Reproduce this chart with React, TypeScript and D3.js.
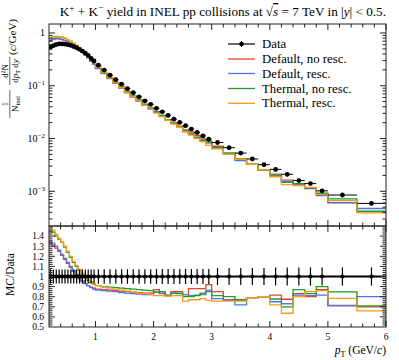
import React, { useEffect, useRef } from 'react'
import * as d3 from 'd3'

// pT bin edges (GeV/c)
const binEdges = [
  0.2, 0.25, 0.3, 0.35, 0.4, 0.45, 0.5, 0.55, 0.6, 0.65, 0.7, 0.75, 0.8, 0.85, 0.9, 0.95, 1.0,
  1.1, 1.2, 1.3, 1.4, 1.5, 1.6, 1.7, 1.8, 1.9, 2.0, 2.1, 2.2, 2.3, 2.4, 2.5, 2.6, 2.7, 2.8, 2.9, 3.0,
  3.2, 3.4, 3.6, 3.8, 4.0, 4.2, 4.4, 4.6, 4.8, 5.0, 5.5, 6.0,
]

// ALICE data: 1/N dN/dpT dy
const dataYield = [
  0.535, 0.575, 0.605, 0.62, 0.62, 0.615, 0.6, 0.58, 0.555, 0.525, 0.49, 0.455, 0.415, 0.375, 0.33, 0.295,
  0.245, 0.198, 0.159, 0.13, 0.107, 0.088, 0.0737, 0.0618, 0.0519, 0.0444, 0.0373, 0.0321, 0.0274, 0.0232,
  0.0202, 0.0175, 0.0151, 0.013, 0.0112, 0.0097,
  0.0084, 0.0067, 0.0053, 0.0041, 0.0032, 0.0026, 0.0021, 0.0016, 0.0014, 0.00102, 0.00085, 0.00059,
]
// relative uncertainty of the data
const dataRelErr = [
  0.07, 0.07, 0.07, 0.07, 0.07, 0.07, 0.07, 0.07, 0.07, 0.07, 0.07, 0.07, 0.07, 0.07, 0.07, 0.07,
  0.072, 0.072, 0.072, 0.072, 0.072, 0.072, 0.072, 0.072, 0.072, 0.072, 0.075, 0.075, 0.075, 0.075,
  0.075, 0.075, 0.075, 0.075, 0.075, 0.075,
  0.085, 0.085, 0.085, 0.085, 0.085, 0.09, 0.09, 0.09, 0.09, 0.09, 0.09, 0.09,
]

// MC / Data ratios
const defaultNoResc = [
  1.33, 1.31, 1.28, 1.25, 1.21, 1.17, 1.13, 1.09, 1.05, 1.01, 0.98, 0.95, 0.93, 0.91, 0.895, 0.885,
  0.875, 0.87, 0.865, 0.86, 0.855, 0.85, 0.845, 0.84, 0.835, 0.835, 0.87, 0.835, 0.815, 0.85,
  0.85, 0.82, 0.88, 0.88, 0.88, 0.92,
  0.85, 0.77, 0.765, 0.79, 0.8, 0.815, 0.775, 0.83, 0.8, 0.87, 0.715, 0.7,
]
const defaultResc = [
  1.35, 1.33, 1.3, 1.26, 1.22, 1.18, 1.14, 1.1, 1.06, 1.02, 0.99, 0.96, 0.93, 0.91, 0.89, 0.875,
  0.865, 0.86, 0.855, 0.85, 0.84, 0.835, 0.83, 0.825, 0.82, 0.82, 0.845, 0.83, 0.81, 0.835,
  0.835, 0.82, 0.81, 0.815, 0.82, 0.866,
  0.78, 0.767, 0.72, 0.79, 0.8, 0.75, 0.73, 0.815, 0.81, 0.815, 0.71, 0.8,
]
const thermalNoResc = [
  1.45, 1.44, 1.4, 1.37, 1.34, 1.29, 1.24, 1.19, 1.14, 1.1, 1.06, 1.02, 0.99, 0.96, 0.94, 0.925,
  0.91, 0.9, 0.895, 0.89, 0.885, 0.88, 0.875, 0.87, 0.865, 0.86, 0.845, 0.85, 0.81, 0.835,
  0.83, 0.8, 0.8, 0.81, 0.835, 0.85,
  0.81, 0.8, 0.77, 0.79, 0.8, 0.777, 0.7, 0.87, 0.83, 0.9, 0.848, 0.71,
]
const thermalResc = [
  1.49, 1.46, 1.42, 1.38, 1.34, 1.3, 1.25, 1.2, 1.15, 1.11, 1.07, 1.03, 1.0, 0.97, 0.95, 0.93,
  0.91, 0.895, 0.885, 0.875, 0.865, 0.855, 0.845, 0.835, 0.83, 0.82, 0.81, 0.81, 0.805, 0.81,
  0.81, 0.757, 0.77, 0.77, 0.78, 0.767,
  0.757, 0.757, 0.757, 0.79, 0.8, 0.72, 0.636, 0.8, 0.85, 0.86, 0.784, 0.66,
]

const seriesNames = ['Default, no resc.', 'Default, resc.', 'Thermal, no resc.', 'Thermal, resc.']
const seriesRatios = [defaultNoResc, defaultResc, thermalNoResc, thermalResc]
const seriesColors = ['#e8412c', '#4d74e8', '#1c9c24', '#f59c1a']

const xTickLabels = ['1', '2', '3', '4', '5', '6']
const yDecades = [-3, -2, -1, 0]
const ratioTickLabels = ['0.5', '0.6', '0.7', '0.8', '0.9', '1', '1.1', '1.2', '1.3', '1.4']

const FONT = '"Liberation Serif", "DejaVu Serif", serif'

type Part = { t: string; sup?: boolean; sub?: boolean; it?: boolean; over?: boolean }

// append text with super/subscripts as tspans
const addRich = (text: any, parts: Part[], fs: number) => {
  let shift = 0
  parts.forEach((p) => {
    const target = p.sup ? -fs * 0.4 : p.sub ? fs * 0.28 : 0
    const ts = text.append('tspan').text(p.t).attr('dy', target - shift)
    shift = target
    if (p.sup || p.sub) ts.attr('font-size', fs * 0.7)
    if (p.it) ts.attr('font-style', 'italic')
    if (p.over) ts.attr('text-decoration', 'overline')
  })
}

const App = () => {
  const svgRef = useRef(null)

  useEffect(() => {
    const W = 399
    const H = 360
    const left = 49
    const right = 386
    const top = 24
    const mid = 226
    const bottom = 327

    const svg = d3.select(svgRef.current).attr('width', W).attr('height', H)
    svg.selectAll('*').remove()
    svg.append('rect').attr('width', W).attr('height', H).attr('fill', 'white')

    const x = d3.scaleLinear().domain([0.2, 6]).range([left, right])
    const y = d3.scaleLog().domain([2.2e-4, 1.48]).range([mid, top])
    const yr = d3.scaleLinear().domain([0.5, 1.5]).range([bottom, mid])

    const defs = svg.append('defs')
    defs.append('clipPath').attr('id', 'clipTop')
      .append('rect').attr('x', left).attr('y', top).attr('width', right - left).attr('height', mid - top)
    defs.append('clipPath').attr('id', 'clipBot')
      .append('rect').attr('x', left).attr('y', mid).attr('width', right - left).attr('height', bottom - mid)

    const nBins = binEdges.length - 1
    const centers = d3.range(nBins).map((i) => (binEdges[i] + binEdges[i + 1]) / 2)

    // step path helper
    const stepPts = (vals: number[]) => {
      const pts: [number, number][] = []
      vals.forEach((v, i) => {
        pts.push([binEdges[i], v])
        pts.push([binEdges[i + 1], v])
      })
      return pts
    }
    const lineTop = d3.line<[number, number]>().x((d) => x(d[0])).y((d) => y(d[1]))
    const lineBot = d3.line<[number, number]>().x((d) => x(d[0])).y((d) => yr(d[1]))

    const gTop = svg.append('g').attr('clip-path', 'url(#clipTop)')
    const gBot = svg.append('g').attr('clip-path', 'url(#clipBot)')

    // MC histograms
    seriesRatios.forEach((ratios, k) => {
      const mc = ratios.map((r, i) => r * dataYield[i])
      gTop.append('path').attr('d', lineTop(stepPts(mc)))
        .attr('fill', 'none').attr('stroke', seriesColors[k]).attr('stroke-width', 1.3)
      gBot.append('path').attr('d', lineBot(stepPts(ratios)))
        .attr('fill', 'none').attr('stroke', seriesColors[k]).attr('stroke-width', 1.3)
    })

    // data upper panel
    dataYield.forEach((v, i) => {
      const cx = x(centers[i])
      gTop.append('line').attr('x1', x(binEdges[i])).attr('x2', x(binEdges[i + 1]))
        .attr('y1', y(v)).attr('y2', y(v)).attr('stroke', 'black').attr('stroke-width', 1)
      gTop.append('line').attr('x1', cx).attr('x2', cx)
        .attr('y1', y(v * (1 + dataRelErr[i]))).attr('y2', y(v * (1 - dataRelErr[i])))
        .attr('stroke', 'black').attr('stroke-width', 1)
      gTop.append('circle').attr('cx', cx).attr('cy', y(v)).attr('r', 2.4).attr('fill', 'black')
    })

    // data ratio panel
    gBot.append('line').attr('x1', x(binEdges[0])).attr('x2', x(binEdges[nBins]))
      .attr('y1', yr(1)).attr('y2', yr(1)).attr('stroke', 'black').attr('stroke-width', 2)
    dataYield.forEach((v, i) => {
      const cx = x(centers[i])
      gBot.append('line').attr('x1', cx).attr('x2', cx)
        .attr('y1', yr(1 + dataRelErr[i])).attr('y2', yr(1 - dataRelErr[i]))
        .attr('stroke', 'black').attr('stroke-width', 1.2)
      gBot.append('circle').attr('cx', cx).attr('cy', yr(1)).attr('r', 2.1).attr('fill', 'black')
    })

    // frames
    const axes = svg.append('g').attr('stroke', '#222').attr('stroke-width', 1)
    axes.append('rect').attr('x', left).attr('y', top).attr('width', right - left).attr('height', mid - top).attr('fill', 'none')
    axes.append('rect').attr('x', left).attr('y', mid).attr('width', right - left).attr('height', bottom - mid).attr('fill', 'none')

    const majorLen = 6
    const minorLen = 3.5
    const xMinor = d3.range(0.4, 6.001, 0.2)
    const xMajor = xTickLabels.map(Number)
    const vTick = (px: number, y0: number, len: number) =>
      axes.append('line').attr('x1', px).attr('x2', px).attr('y1', y0).attr('y2', y0 + len)
    const hTick = (py: number, x0: number, len: number) =>
      axes.append('line').attr('x1', x0).attr('x2', x0 + len).attr('y1', py).attr('y2', py)

    ;[[top, mid], [mid, bottom]].forEach(([t0, b0]) => {
      xMinor.forEach((v) => {
        const isMajor = xMajor.some((m) => Math.abs(m - v) < 1e-6)
        const len = isMajor ? majorLen : minorLen
        vTick(x(v), t0, len)
        vTick(x(v), b0, -len)
      })
    })

    // log ticks upper
    yDecades.forEach((e) => {
      const base = Math.pow(10, e)
      hTick(y(base), left, majorLen)
      hTick(y(base), right, -majorLen)
    })
    ;[-4, -3, -2, -1, 0].forEach((e) => {
      d3.range(2, 10).forEach((m) => {
        const v = m * Math.pow(10, e)
        if (v < 2.2e-4 || v > 1.48) return
        hTick(y(v), left, minorLen)
        hTick(y(v), right, -minorLen)
      })
    })

    // ratio ticks
    d3.range(0.52, 1.5, 0.02).forEach((v) => {
      const isMajor = Math.abs(v * 10 - Math.round(v * 10)) < 1e-6
      const len = isMajor ? majorLen : minorLen
      hTick(yr(v), left, len)
      hTick(yr(v), right, -len)
    })

    // tick labels
    const lab = svg.append('g').attr('font-family', FONT).attr('fill', 'black')
    yDecades.forEach((e) => {
      const t = lab.append('text').attr('x', 45).attr('y', y(Math.pow(10, e)) + 3.5)
        .attr('text-anchor', 'end').attr('font-size', 10)
      if (e === 0) t.text('1')
      else addRich(t, [{ t: '10' }, { t: '\u2212' + Math.abs(e), sup: true }], 10)
    })
    ratioTickLabels.forEach((s) => {
      lab.append('text').attr('x', 44).attr('y', yr(Number(s)) + 3.3)
        .attr('text-anchor', 'end').attr('font-size', 9.5).text(s)
    })
    xTickLabels.forEach((s) => {
      lab.append('text').attr('x', x(Number(s))).attr('y', 339.5)
        .attr('text-anchor', 'middle').attr('font-size', 9.5).text(s)
    })

    // x label
    const xl = lab.append('text').attr('x', right).attr('y', 354).attr('text-anchor', 'end').attr('font-size', 11.5)
    addRich(xl, [{ t: 'p', it: true }, { t: 'T', sub: true }, { t: ' (GeV/' }, { t: 'c', it: true }, { t: ')' }], 11.5)

    // title
    const title = lab.append('text').attr('x', right).attr('y', 16).attr('text-anchor', 'end').attr('font-size', 13.2)
    addRich(title, [
      { t: 'K' }, { t: '+', sup: true }, { t: ' + K' }, { t: '\u2212', sup: true },
      { t: ' yield in INEL pp collisions at \u221A' }, { t: 's', it: true, over: true },
      { t: ' = 7 TeV in |' }, { t: 'y', it: true }, { t: '| < 0.5.' },
    ], 13.2)

    // MC/Data label
    lab.append('text').attr('transform', `translate(14, ${yr(1.02)}) rotate(-90)`)
      .attr('text-anchor', 'middle').attr('font-size', 11.5).text('MC/Data')

    // upper y label
    const rot = (cx: number, cy: number) => `translate(${cx}, ${cy}) rotate(-90)`
    const unit = lab.append('text').attr('transform', rot(15.5, 37)).attr('text-anchor', 'middle').attr('font-size', 11)
    addRich(unit, [{ t: '(' }, { t: 'c', it: true }, { t: '/GeV)' }], 11)
    const frac = (cy: number, num: Part[], den: Part[], w: number) => {
      const n = lab.append('text').attr('transform', rot(8.3, cy)).attr('text-anchor', 'middle').attr('font-size', 8.5)
      addRich(n, num, 8.5)
      const d = lab.append('text').attr('transform', rot(17.5, cy)).attr('text-anchor', 'middle').attr('font-size', 9)
      addRich(d, den, 9)
      lab.append('line').attr('x1', 9.8).attr('x2', 9.8).attr('y1', cy - w / 2).attr('y2', cy + w / 2)
        .attr('stroke', 'black').attr('stroke-width', 0.6)
    }
    frac(71, [{ t: 'd' }, { t: '2', sup: true }, { t: 'N' }], [{ t: 'd' }, { t: 'p', it: true }, { t: 'T', sub: true }, { t: ' d' }, { t: 'y', it: true }], 28)
    frac(104, [{ t: '1' }], [{ t: 'N' }, { t: 'inel', sub: true }], 28)

    // legend
    const legY = [44, 59, 73.5, 88.5, 103.3]
    const lg = svg.append('g').attr('font-family', FONT)
    lg.append('line').attr('x1', 228).attr('x2', 255).attr('y1', legY[0]).attr('y2', legY[0]).attr('stroke', 'black').attr('stroke-width', 1.2)
    lg.append('line').attr('x1', 241.5).attr('x2', 241.5).attr('y1', legY[0] - 3).attr('y2', legY[0] + 3).attr('stroke', 'black').attr('stroke-width', 1)
    lg.append('circle').attr('cx', 241.5).attr('cy', legY[0]).attr('r', 2.3).attr('fill', 'black')
    lg.append('text').attr('x', 262).attr('y', legY[0] + 4).attr('font-size', 12.8).text('Data')
    seriesNames.forEach((name, k) => {
      const yy = legY[k + 1]
      lg.append('line').attr('x1', 228).attr('x2', 255).attr('y1', yy).attr('y2', yy)
        .attr('stroke', seriesColors[k]).attr('stroke-width', 1.3)
      lg.append('text').attr('x', 262).attr('y', yy + 4).attr('font-size', 12.8).text(name)
    })
  }, [])

  return <svg ref={svgRef} style={{ position: 'absolute', left: 0, top: 0 }}></svg>
}

export default App
